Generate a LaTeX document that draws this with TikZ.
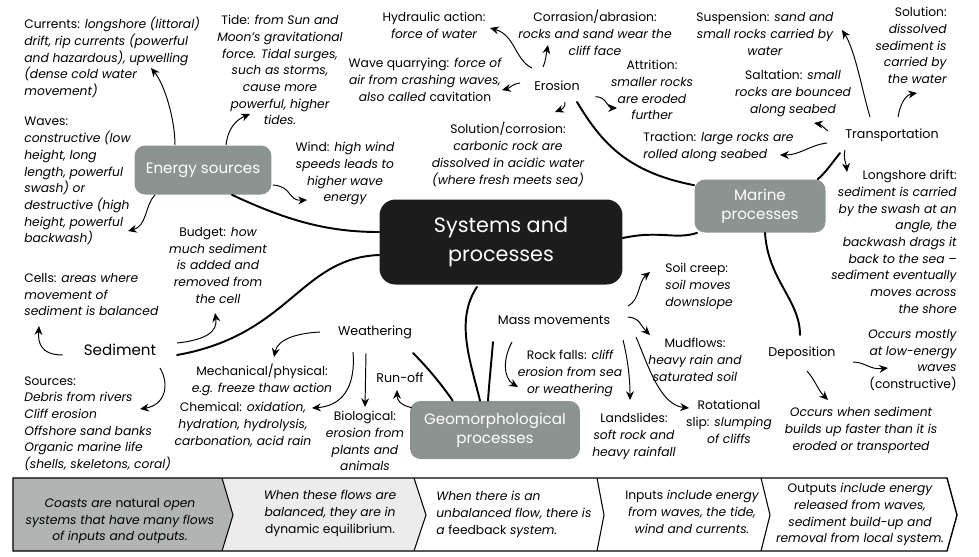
\documentclass[tikz,border=0pt]{standalone}
\usepackage{fontspec}
\setmainfont{Poppins}
\usetikzlibrary{arrows.meta,positioning,calc}
\definecolor{boxgray}{RGB}{140,148,146}
\definecolor{hubblack}{RGB}{28,28,28}
\definecolor{stripgray}{RGB}{178,180,180}
\definecolor{striplight}{RGB}{236,236,236}
\newcommand{\keyw}[1]{{\upshape #1}}

\begin{document}
\begin{tikzpicture}[x=0.02cm, y=-0.02cm]
% STYLES
\tikzset{
    hub/.style={rectangle, rounded corners=9pt, fill=hubblack, text=white, align=center,
    minimum width=4.86cm, minimum height=1.7cm, font=\fontsize{11.8}{16.4}\selectfont},
    topic/.style={rectangle, rounded corners=6pt, fill=boxgray, text=white, align=center,
    font=\fontsize{8.6}{11}\selectfont},
    branch/.style={inner sep=1pt, font=\fontsize{7.2}{9.5}\selectfont},
    note/.style={inner sep=0pt, font=\fontsize{7}{9.5}\selectfont\itshape},
    link/.style={line width=1.1pt, line cap=round},
    arr/.style={line width=0.55pt, -{Stealth[length=5pt,width=4.5pt]}}
}
\useasboundingbox (0,0) rectangle (979,556);

% main boxes
\node [hub] (hub) at (501,242) {Systems and\\processes};
\node [topic, minimum width=2.74cm, minimum height=0.98cm] (energy) at (203,170) {Energy sources};
\node [topic, minimum width=2.62cm, minimum height=1.06cm] (marine) at (760,206) {Marine\\processes};
\node [topic, minimum width=3.4cm, minimum height=1.16cm] (geo) at (495,430) {Geomorphological\\processes};

% branch labels
\node [branch] (erosion) at (557,86) {Erosion};
\node [branch] (transp) at (892,135) {Transportation};
\node [branch] (depo) at (802,353) {Deposition};
\node [branch] (mass) at (554,320) {Mass movements};
\node [branch] (weath) at (375,332) {Weathering};
\node [branch, font=\fontsize{8.6}{10}\selectfont] (sedi) at (120,350) {Sediment};
\node [branch] (runoff) at (400,378) {Run-off};

% energy sources
\node [note, align=left, anchor=north west] (currents) at (24,17) {\keyw{Currents:} longshore (littoral)\\drift, rip currents (powerful\\and hazardous), upwelling\\(dense cold water\\movement)};
\node [note, align=left, anchor=north west] (waves) at (24,117) {\keyw{Waves:}\\constructive (low\\height, long\\length, powerful\\swash) or\\destructive (high\\height, powerful\\backwash)};
\node [note, align=center, anchor=north] (tide) at (280,15) {\keyw{Tide:} from Sun and\\Moon's gravitational\\force. Tidal surges,\\such as storms,\\cause more\\powerful, higher\\tides.};
\node [note, align=center, anchor=north] (wind) at (345,142) {\keyw{Wind:} high wind\\speeds leads to\\higher wave\\energy};

% sediment
\node [note, align=center, anchor=north] (budget) at (218,227) {\keyw{Budget:} how\\much sediment\\is added and\\removed from\\the cell};
\node [note, align=left, anchor=north west] (cells) at (24,273) {\keyw{Cells:} areas where\\movement of\\sediment is balanced};
\node [note, align=left, anchor=north west] (sources) at (24,376) {\keyw{Sources:}\\Debris from rivers\\Cliff erosion\\Offshore sand banks\\Organic marine life\\(shells, skeletons, coral)};

% erosion
\node [note, align=center, anchor=north] (hydraulic) at (434,12) {\keyw{Hydraulic action:}\\force of water};
\node [note, align=center, anchor=north] (corrasion) at (595,10) {\keyw{Corrasion/abrasion:}\\rocks and sand wear the\\cliff face};
\node [note, align=center, anchor=north] (quarry) at (425,58) {\keyw{Wave quarrying:} force of\\air from crashing waves,\\also called \keyw{cavitation}};
\node [note, align=center, anchor=north] (solcorr) at (508,122) {\keyw{Solution/corrosion:}\\carbonic rock are\\dissolved in acidic water\\(where fresh meets sea)};
\node [note, align=center, anchor=north] (attrition) at (652,60) {\keyw{Attrition:}\\smaller rocks\\are eroded\\further};

% transportation
\node [note, align=center, anchor=north] (suspension) at (765,12) {\keyw{Suspension:} sand and\\small rocks carried by\\water};
\node [note, align=center, anchor=north] (saltation) at (793,70) {\keyw{Saltation:} small\\rocks are bounced\\along seabed};
\node [note, align=right, anchor=north east] (solution) at (947,7) {\keyw{Solution:}\\dissolved\\sediment is\\carried by\\the water};
\node [note, align=left, anchor=north west] (traction) at (643,132) {\keyw{Traction:} large rocks are\\rolled along seabed};
\node [note, align=right, anchor=north east] (longshore) at (957,170) {\keyw{Longshore drift:}\\sediment is carried\\by the swash at an\\angle, the\\backwash drags it\\back to the sea --\\sediment eventually\\moves across\\the shore};

% deposition
\node [note, align=right, anchor=north east] (mostly) at (957,329) {Occurs mostly\\at low-energy\\waves\\\keyw{(constructive)}};
\node [note, align=center, anchor=north] (whensed) at (861,407) {Occurs when sediment\\builds up faster than it is\\eroded or transported};

% mass movements
\node [note, align=left, anchor=north west] (soilcreep) at (665,263) {\keyw{Soil creep:}\\soil moves\\downslope};
\node [note, align=center, anchor=north] (mudflows) at (695,338) {\keyw{Mudflows:}\\heavy rain and\\saturated soil};
\node [note, align=center, anchor=north] (rockfalls) at (570,350) {\keyw{Rock falls:} cliff\\erosion from sea\\or weathering};
\node [note, align=center, anchor=north] (landslides) at (634,413) {\keyw{Landslides:}\\soft rock and\\heavy rainfall};
\node [note, align=center, anchor=north] (rotational) at (729,400) {\keyw{Rotational}\\\keyw{slip:} slumping\\of cliffs};

% weathering
\node [note, align=center, anchor=north] (mechanical) at (262,364) {\keyw{Mechanical/physical:}\\e.g. freeze thaw action};
\node [note, align=center, anchor=north] (chemical) at (243,402) {\keyw{Chemical:} oxidation,\\hydration, hydrolysis,\\carbonation, acid rain};
\node [note, align=center, anchor=north] (biological) at (365,411) {\keyw{Biological:}\\erosion from\\plants and\\animals};

% Draw the links between the boxes
\draw [link] ($(energy.south)+(29,0)$) .. controls (290,222) and (330,232) .. ($(hub.west)+(0,-10)$);
\draw [link] ($(sedi)+(57,5)$) .. controls (290,335) and (300,258) .. ($(hub.west)+(0,13)$);
\draw [link] ($(hub.east)+(0,-4)$) .. controls (660,230) and (675,240) .. ($(marine.south west)+(3,0)$);
\draw [link] ($(erosion)+(20,16)$) .. controls (600,140) and (625,172) .. ($(marine.north west)+(0,6)$);
\draw [link] ($(transp)+(-52,18)$) .. controls (832,163) and (826,172) .. ($(marine.north east)+(-8,0)$);
\draw [link] ($(marine.south)+(5,0)$) .. controls (768,280) and (800,300) .. ($(depo)+(-2,-18)$);
\draw [link] ($(hub.south)+(-24,2)$) .. controls (455,320) and (470,360) .. ($(geo.north)+(-15,0)$);
\draw [link] ($(mass)+(-61,22)$) .. controls (491,365) and (489,385) .. ($(geo.north)+(-7,0)$);
\draw [link] ($(weath)+(38,21)$) .. controls (428,368) and (442,385) .. ($(geo.north west)+(43,0)$);

% energy arrows
\draw [arr] ($(energy.north)+(-28,0)$) .. controls (175,120) and (165,85) .. ($(currents.north west)+(127,51)$);
\draw [arr] ($(energy.north)+(23,0)$) .. controls (228,128) and (236,120) .. ($(tide.north)+(-30,99)$);
\draw [arr] ($(energy.east)+(1,15)$) .. controls (292,186) and (288,201) .. ($(wind.north)+(-38,58)$);
\draw [arr] ($(energy.south)+(-48,0)$) .. controls (145,205) and (147,226) .. ($(waves.north west)+(104,114)$);

% sediment arrows
\draw [arr] ($(sedi)+(-57,5)$) .. controls (40,355) and (38,342) .. ($(cells.north west)+(15,53)$);
\draw [arr] ($(sedi)+(57,-7)$) .. controls (205,340) and (218,332) .. ($(budget.north)+(-3,86)$);
\draw [arr] ($(sedi)+(40,18)$) .. controls (170,385) and (165,405) .. ($(sources.north west)+(116,33)$);

% erosion arrows
\draw [arr] ($(erosion)+(-25,-18)$) .. controls (515,60) and (515,35) .. ($(hydraulic.north)+(56,16)$);
\draw [arr] ($(erosion)+(-14,-19)$) .. controls (546,60) and (546,55) .. ($(corrasion.north)+(-47,35)$);
\draw [arr] ($(erosion)+(-37,-3)$) .. controls (512,84) and (510,88) .. ($(quarry.north)+(77,32)$);
\draw [arr] ($(erosion)+(8,16)$) .. controls (566,108) and (560,110) .. ($(solcorr.north)+(47,-10)$);
\draw [arr] ($(erosion)+(38,11)$) .. controls (605,95) and (608,108) .. ($(attrition.north)+(-35,48)$);

% transportation arrows
\draw [arr] ($(transp)+(-22,-18)$) .. controls (862,90) and (855,50) .. ($(suspension.north)+(77,18)$);
\draw [arr] ($(transp)+(6,-18)$) .. controls (900,105) and (905,95) .. ($(solution.north east)+(-30,86)$);
\draw [arr] ($(transp)+(-64,-4)$) .. controls (823,127) and (820,124) .. ($(saltation.north)+(21,53)$);
\draw [arr] ($(transp)+(-65,8)$) .. controls (810,145) and (800,155) .. ($(traction.north west)+(137,23)$);
\draw [arr] ($(transp)+(-47,15)$) .. controls (843,158) and (846,163) .. ($(longshore.north east)+(-110,2)$);

% deposition arrows
\draw [arr] ($(depo)+(51,9)$) .. controls (865,362) and (870,370) .. ($(mostly.north east)+(-69,39)$);
\draw [arr] ($(depo)+(5,18)$) .. controls (815,380) and (818,390) .. ($(whensed.north)+(-33,-7)$);

% weathering arrows
\draw [arr] ($(weath)+(-55,0)$) .. controls (300,333) and (278,338) .. ($(mechanical.north)+(12,-7)$);
\draw [arr] ($(weath)+(-22,20)$) .. controls (356,390) and (340,406) .. ($(chemical.north)+(69,6)$);
\draw [arr] ($(weath)+(-9,21)$) -- ($(biological.north)+(0,-4)$);
\draw [arr] ($(geo.north west)+(2,7)$) .. controls (400,405) and (397,400) .. ($(runoff)+(-3,12)$);

% mass movement arrows
\draw [arr] ($(mass)+(74,-14)$) .. controls (640,300) and (638,282) .. ($(soilcreep.north west)+(-15,9)$);
\draw [arr] ($(mass)+(74,-3)$) .. controls (640,318) and (640,325) .. ($(mudflows.north)+(-45,-3)$);
\draw [arr] ($(mass)+(-42,22)$) .. controls (503,358) and (503,378) .. ($(rockfalls.north)+(-52,37)$);
\draw [arr] ($(mass)+(69,20)$) .. controls (628,360) and (630,380) .. ($(landslides.north)+(-4,-13)$);
\draw [arr] ($(mass)+(82,17)$) .. controls (648,365) and (660,405) .. ($(rotational.north)+(-40,8)$);

% bottom strip
\fill [stripgray] (13,478) -- (222,478) -- (233,515) -- (222,551) -- (13,551) -- cycle;
\fill [striplight] (222,478) -- (414,478) -- (426,515) -- (414,551) -- (222,551) -- (233,515) -- cycle;
\draw [line width=0.8pt] (13,478) -- (947,478) -- (957,515) -- (947,551) -- (13,551) -- cycle;
\foreach \xa/\xb in {222/233, 414/426, 597/604, 761/770}
    \draw [line width=0.6pt] (\xa,478) -- (\xb,515) -- (\xa,551);
\node [note, align=center, anchor=north] (flow1) at (120,498) {Coasts are \keyw{natural} open\\systems that have many flows\\of inputs and outputs.};
\node [note, align=center, anchor=north] (flow2) at (330,490) {When these flows are\\balanced, they are in\\\keyw{dynamic equilibrium.}};
\node [note, align=left, anchor=north west] (flow3) at (436,491) {When there is an\\unbalanced flow, there is\\a \keyw{feedback} system.};
\node [note, align=center, anchor=north] (flow4) at (692,490) {\keyw{Inputs} include energy\\from waves, the tide,\\wind and currents.};
\node [note, align=center, anchor=north] (flow5) at (860,483) {\keyw{Outputs} include energy\\released from waves,\\sediment build-up and\\removal from local system.};
\end{tikzpicture}
\end{document}
